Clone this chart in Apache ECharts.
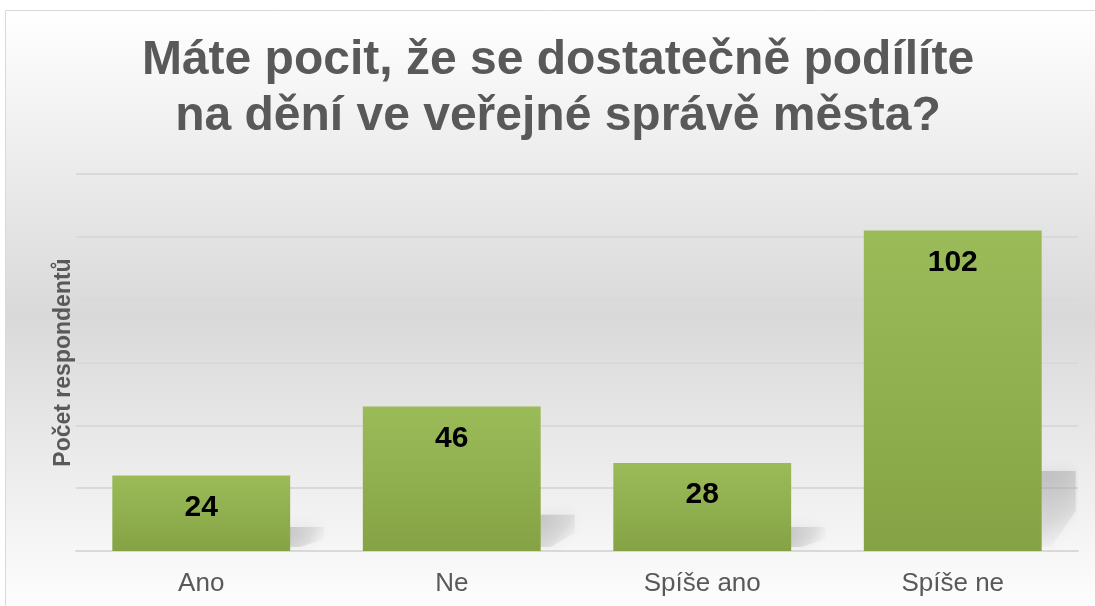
<!DOCTYPE html>
<html><head><meta charset="utf-8">
<script src="https://cdn.jsdelivr.net/npm/echarts@6/dist/echarts.min.js"></script>
<style>html,body{margin:0;padding:0;background:#fff}#c{width:1095px;height:606px}</style>
</head><body><div id="c"></div>
<script>
const titleText = 'Máte pocit, že se dostatečně podílíte\nna dění ve veřejné správě města?';
const categories = ['Ano', 'Ne', 'Spíše ano', 'Spíše ne'];
const values = [24, 46, 28, 102];
const yAxisName = 'Počet respondentů';

const barRatio = 0.71;
const chart = echarts.init(document.getElementById('c'));
chart.setOption({
  backgroundColor: '#ffffff',
  animation: false,
  graphic: [{
    type: 'rect', z: -100, silent: true,
    shape: { x: 5.5, y: 10.5, width: 1100, height: 610 },
    style: {
      stroke: '#d9d9d9', lineWidth: 1,
      fill: new echarts.graphic.LinearGradient(0, 0, 0, 1, [
        { offset: 0, color: '#ffffff' },
        { offset: 0.5, color: '#d9d9d9' },
        { offset: 1, color: '#ffffff' }
      ])
    }
  }],
  title: {
    text: titleText,
    left: 553, top: 28, textAlign: 'center',
    textStyle: { fontFamily: 'Liberation Sans', fontWeight: 'bold', fontSize: 48, lineHeight: 56, color: '#595959' }
  },
  grid: { left: 76, right: 17, top: 174, bottom: 55, containLabel: false },
  xAxis: {
    type: 'category', data: categories,
    axisLine: { show: true, lineStyle: { color: '#d9d9d9', width: 2 } },
    axisTick: { show: false },
    axisLabel: { fontFamily: 'Liberation Sans', fontSize: 26, color: '#595959', margin: 20 }
  },
  yAxis: {
    type: 'value', min: 0, max: 120, interval: 20,
    name: yAxisName, nameLocation: 'middle', nameGap: 1, nameRotate: 90,
    nameTextStyle: { fontFamily: 'Liberation Sans', fontWeight: 'bold', fontSize: 23, color: '#595959' },
    axisLabel: { show: false }, axisLine: { show: false }, axisTick: { show: false },
    splitLine: { lineStyle: { color: '#d9d9d9', width: 2 } }
  },
  series: [{
    type: 'custom', z: 1, silent: true, clip: true,
    data: values.map((v, i) => [i, v]),
    renderItem: function (params, api) {
      const base = api.coord([api.value(0), 0]);
      const top = api.coord([api.value(0), api.value(1)]);
      const band = api.size([1, 0])[0];
      const xr = base[0] + band * barRatio / 2;
      const y0 = base[1];
      const h = y0 - top[1];
      const sh = Math.max(h * 0.25, 24);
      return {
        type: 'polygon',
        shape: { points: [[xr - 4, y0 - 4], [xr - 4, y0 - sh], [xr + 34, y0 - sh], [xr + 34, y0 - sh * 0.5], [xr + 10, y0 - 4]] },
        style: {
          fill: new echarts.graphic.LinearGradient(0, 0, 1, 1, [
            { offset: 0, color: 'rgba(150,150,150,0.45)' },
            { offset: 0.6, color: 'rgba(170,170,170,0.25)' },
            { offset: 1, color: 'rgba(200,200,200,0)' }
          ]),
          shadowBlur: 14, shadowColor: 'rgba(150,150,150,0.5)'
        }
      };
    }
  }, {
    type: 'bar', data: values, barCategoryGap: '29%', z: 2,
    itemStyle: {
      color: new echarts.graphic.LinearGradient(0, 0, 0, 1, [
        { offset: 0, color: '#9bbb59' },
        { offset: 1, color: '#85a344' }
      ])
    },
    label: {
      show: true, position: 'insideTop', distance: 17,
      fontFamily: 'Liberation Sans', fontWeight: 'bold', fontSize: 30, color: '#000000'
    }
  }]
});
</script></body></html>
